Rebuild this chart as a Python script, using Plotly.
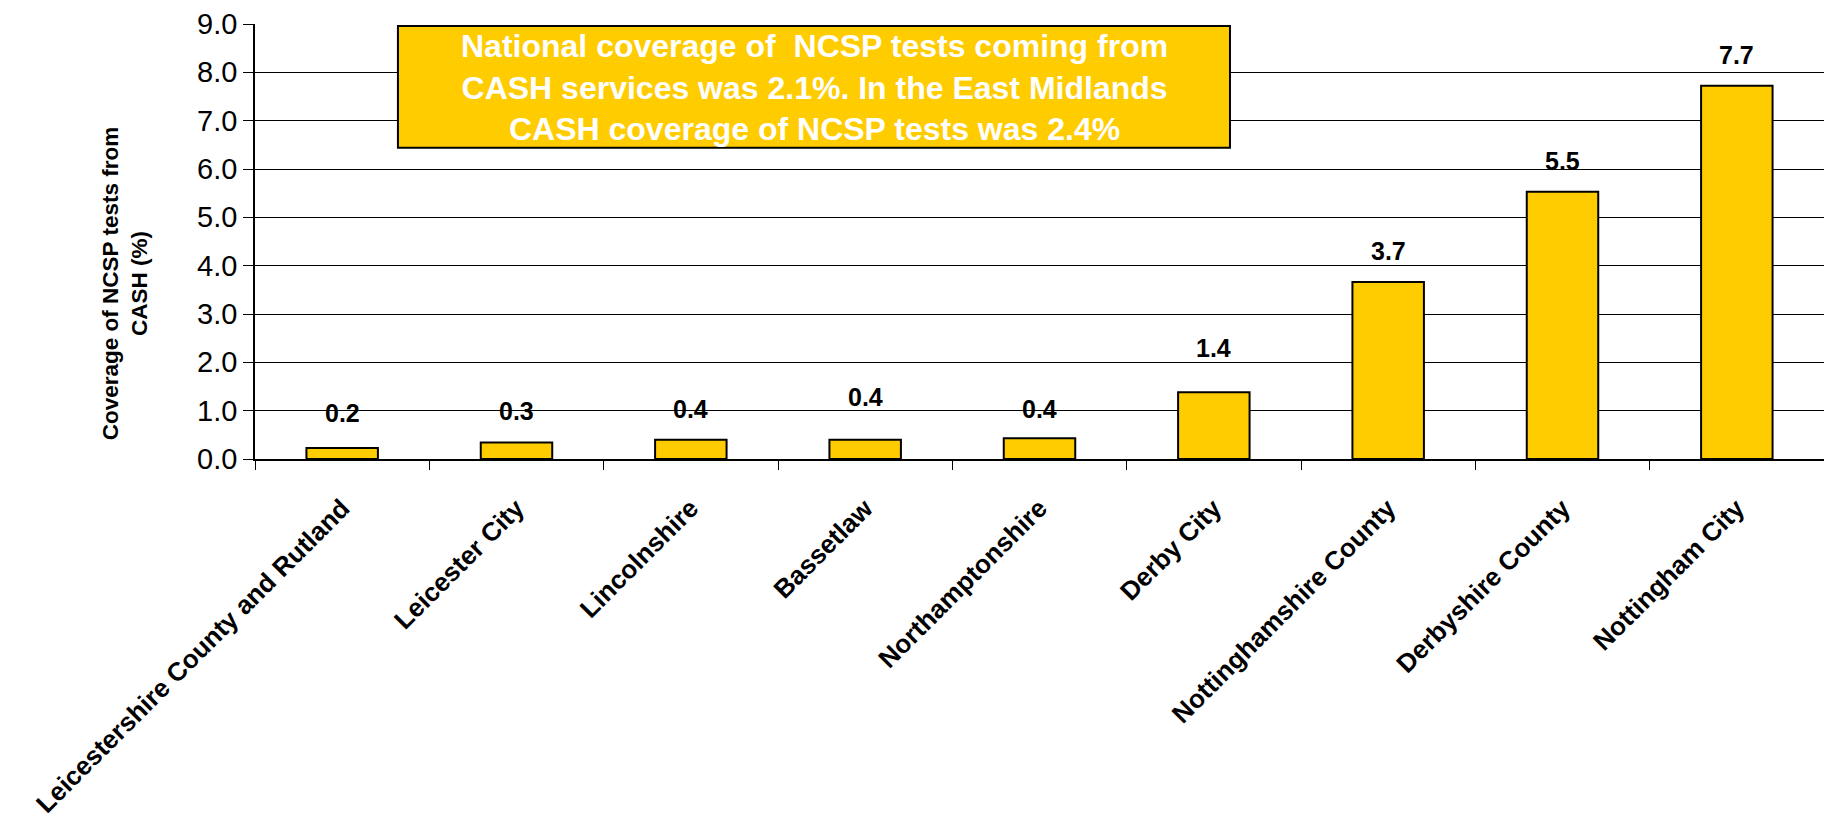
import plotly.graph_objects as go

categories = ["Leicestershire County and Rutland", "Leicester City", "Lincolnshire",
              "Bassetlaw", "Northamptonshire", "Derby City", "Nottinghamshire County",
              "Derbyshire County", "Nottingham City"]
coverage = [0.23, 0.34, 0.40, 0.40, 0.43, 1.38, 3.66, 5.53, 7.72]
y_ticks = [0, 1, 2, 3, 4, 5, 6, 7, 8, 9]

label_lift = [19, 16, 15, 27, 13, 28, 15, 15, 15]  # px above bar top

BAR = "#FFCC00"

fig = go.Figure()
fig.add_trace(go.Bar(
    x=categories, y=coverage, width=0.41,
    marker=dict(color=BAR, line=dict(color="black", width=2)),
    hoverinfo="x+y",
))

for c, v, lift in zip(categories, coverage, label_lift):
    fig.add_annotation(x=c, y=v, xref="x", yref="y", text=f"<b>{v:.1f}</b>",
                       showarrow=False, yanchor="bottom", xanchor="center", yshift=lift,
                       font=dict(family="Liberation Sans Narrow, Arial Narrow, Liberation Sans, Arial",
                                 size=25, color="black"))

# note box
fig.add_shape(type="rect", xref="paper", yref="paper", x0=0.0911, x1=0.6214, y0=0.7153, y1=0.9954,
              fillcolor=BAR, line=dict(color="black", width=2), layer="above")
fig.add_annotation(xref="paper", yref="paper", x=0.3563, y=0.855, showarrow=False,
                   xanchor="center", yanchor="middle",
                   text="<b>National coverage of  NCSP tests coming from<br>CASH services was 2.1%. In the East Midlands<br>CASH coverage of NCSP tests was 2.4%</b>",
                   align="center",
                   font=dict(family="Liberation Sans Narrow, Arial Narrow, Liberation Sans, Arial",
                             size=32, color="white"))

# y-axis title
fig.add_annotation(xref="paper", yref="paper", x=-0.0829, y=0.404, showarrow=False,
                   xanchor="center", yanchor="middle",
                   textangle=-90, align="center",
                   text="<b>Coverage of NCSP tests from<br>CASH (%)</b>",
                   font=dict(family="Liberation Sans, Arial", size=22.5, color="black"))

fig.update_layout(
    width=1816, height=811,
    margin=dict(l=247, r=0, t=13, b=359),
    plot_bgcolor="white", paper_bgcolor="white",
    showlegend=False,
    font=dict(family="Liberation Sans, Arial", color="black"),
)
fig.update_xaxes(
    type="category", showline=True, linecolor="black", linewidth=1.5,
    ticks="outside", tickson="boundaries", ticklen=9, tickcolor="black",
    tickangle=-45, showgrid=False, ticklabelstandoff=22,
    tickfont=dict(family="Liberation Sans, Arial", size=26, color="black"),
    tickprefix="<b>", ticksuffix="</b>",
)
fig.update_yaxes(
    range=[0, 9], tickvals=y_ticks, tickformat=".1f",
    showline=True, linecolor="black", linewidth=1.5,
    ticks="outside", ticklen=10, tickcolor="black",
    showgrid=True, gridcolor="black", gridwidth=1, zeroline=False,
    ticklabeloverflow="allow",
    tickfont=dict(family="Liberation Sans, Arial", size=29, color="black"),
)

fig.write_html("out.html")
